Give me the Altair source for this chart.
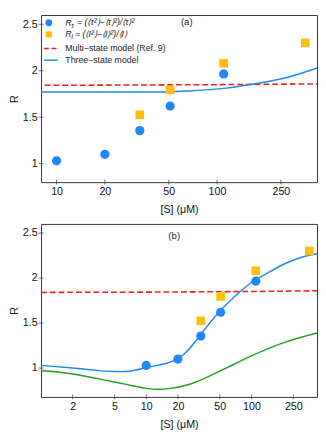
import altair as alt
import pandas as pd

# ---- data ----
S_tau = [10, 20, 33, 51, 110]
R_tau = [1.03, 1.10, 1.355, 1.62, 1.965]
S_I = [33, 51, 110, 355]
R_I = [1.525, 1.795, 2.08, 2.30]

multi_S = [1, 10, 100, 420]
multi_R = [1.84, 1.843, 1.85, 1.858]

a_three_S = [8, 30, 50, 70, 110, 166, 276, 420]
a_three_R = [1.77, 1.77, 1.772, 1.785, 1.81, 1.855, 1.93, 2.03]

b_three_S = [1, 2, 3.5, 5, 7, 10, 14, 20, 26, 32, 50, 70, 100, 150, 200, 300, 420]
b_three_R = [1.03, 1.0, 0.972, 0.962, 0.966, 1.005, 1.04, 1.105, 1.22, 1.355, 1.63, 1.80, 1.95, 2.07, 2.15, 2.23, 2.27]

b_green_S = [1, 2, 5, 7, 10, 13, 17, 25, 38, 60, 100, 200, 420]
b_green_R = [0.97, 0.935, 0.845, 0.81, 0.775, 0.765, 0.775, 0.815, 0.90, 1.01, 1.135, 1.28, 1.39]

a_xticks = [10, 20, 50, 100, 250]
b_xticks = [2, 5, 10, 20, 50, 100, 250]
yticks = [1, 1.5, 2, 2.5]

legend_labels = ["Multi\u2212state  model  (Ref. 9)", "Three\u2212state model"]
formula_tau = "= (\u27e8\u03c4\u00b2\u27e9\u2212\u27e8\u03c4\u27e9\u00b2)/\u27e8\u03c4\u27e9\u00b2"
formula_I = "= (\u27e8I\u00b2\u27e9\u2212\u27e8I\u27e9\u00b2)/\u27e8I\u27e9"
panel_tags = ["(a)", "(b)"]

BLUE_PT = "#1e88f5"
YELLOW = "#ffbe0b"
RED = "#e8231e"
BLUE_LN = "#2288e8"
GREEN = "#22a022"
FONT = "Liberation Sans"

W = 284


def df(xs, ys):
    return pd.DataFrame({"S": xs, "R": ys})


def panel(xdom, ydom, xticks, H, tag, tagx, tagy, green=False, legend=False):
    xs = alt.Scale(type="log", domain=xdom, nice=False)
    ys = alt.Scale(domain=ydom, nice=False, zero=False)
    xax = alt.Axis(values=xticks, format="~g", title="[S] (\u03bcM)", tickSize=0,
                   labelPadding=4, titlePadding=7, domain=False)
    yax = alt.Axis(values=yticks, format="~g", title="R", tickSize=0,
                   labelPadding=4, titlePadding=3, domain=False)
    X = alt.X("S:Q", scale=xs, axis=xax)
    Y = alt.Y("R:Q", scale=ys, axis=yax)
    Xn = alt.X("S:Q", scale=xs)
    Yn = alt.Y("R:Q", scale=ys)

    layers = []
    layers.append(alt.Chart(df(multi_S, multi_R)).mark_line(
        color=RED, strokeDash=[6, 3], strokeWidth=1.6, clip=True).encode(x=X, y=Y))
    if green:
        layers.append(alt.Chart(df(b_green_S, b_green_R)).mark_line(
            color=GREEN, strokeWidth=1.5, interpolate="natural", clip=True).encode(x=Xn, y=Yn))
        layers.append(alt.Chart(df(b_three_S, b_three_R)).mark_line(
            color=BLUE_LN, strokeWidth=1.5, interpolate="natural", clip=True).encode(x=Xn, y=Yn))
    else:
        layers.append(alt.Chart(df(a_three_S, a_three_R)).mark_line(
            color=BLUE_LN, strokeWidth=1.5, interpolate="monotone", clip=True).encode(x=Xn, y=Yn))
    layers.append(alt.Chart(df(S_I, R_I)).mark_square(
        color=YELLOW, size=80, opacity=1).encode(x=Xn, y=Yn))
    layers.append(alt.Chart(df(S_tau, R_tau)).mark_circle(
        color=BLUE_PT, size=90, opacity=1).encode(x=Xn, y=Yn))

    # inward ticks
    layers.append(alt.Chart(pd.DataFrame({"S": xticks})).mark_tick(
        color="#333", size=5, thickness=1).encode(x=Xn, y=alt.value(H)))
    layers.append(alt.Chart(pd.DataFrame({"R": yticks})).mark_tick(
        color="#333", size=5, thickness=1).encode(y=Yn, x=alt.value(0)))

    layers.append(alt.Chart(pd.DataFrame({"t": [tag]})).mark_text(
        font=FONT, fontSize=10, color="#222").encode(
        text="t:N", x=alt.value(tagx), y=alt.value(tagy)))

    if legend:
        one = pd.DataFrame({"k": [0]})
        layers.append(alt.Chart(one).mark_circle(color=BLUE_PT, size=50, opacity=1).encode(
            x=alt.value(8), y=alt.value(8)))
        layers.append(alt.Chart(one).mark_square(color=YELLOW, size=40, opacity=1).encode(
            x=alt.value(8), y=alt.value(20)))
        layers.append(alt.Chart(one).mark_rule(color=RED, strokeDash=[5, 3], strokeWidth=1.6).encode(
            x=alt.value(3), x2=alt.value(17), y=alt.value(34.5)))
        layers.append(alt.Chart(one).mark_rule(color=BLUE_LN, strokeWidth=1.5).encode(
            x=alt.value(3), x2=alt.value(17), y=alt.value(46.5)))
        txt = dict(font=FONT, fontSize=9, color="#222", align="left", baseline="middle")
        layers.append(alt.Chart(pd.DataFrame({"t": ["R"]})).mark_text(fontStyle="italic", **txt).encode(
            text="t:N", x=alt.value(25), y=alt.value(8)))
        layers.append(alt.Chart(pd.DataFrame({"t": ["\u03c4"]})).mark_text(
            font=FONT, fontSize=7, fontStyle="italic", color="#222", align="left", baseline="middle").encode(
            text="t:N", x=alt.value(31), y=alt.value(11)))
        layers.append(alt.Chart(pd.DataFrame({"t": [formula_tau]})).mark_text(fontStyle="italic", **txt).encode(
            text="t:N", x=alt.value(37), y=alt.value(7.5)))
        layers.append(alt.Chart(pd.DataFrame({"t": ["R"]})).mark_text(fontStyle="italic", **txt).encode(
            text="t:N", x=alt.value(25), y=alt.value(20)))
        layers.append(alt.Chart(pd.DataFrame({"t": ["I"]})).mark_text(
            font=FONT, fontSize=7, fontStyle="italic", color="#222", align="left", baseline="middle").encode(
            text="t:N", x=alt.value(31), y=alt.value(23)))
        layers.append(alt.Chart(pd.DataFrame({"t": [formula_I]})).mark_text(fontStyle="italic", **txt).encode(
            text="t:N", x=alt.value(35), y=alt.value(19.5)))
        layers.append(alt.Chart(pd.DataFrame({"t": [legend_labels[0]]})).mark_text(**txt).encode(
            text="t:N", x=alt.value(25), y=alt.value(34.5)))
        layers.append(alt.Chart(pd.DataFrame({"t": [legend_labels[1]]})).mark_text(**txt).encode(
            text="t:N", x=alt.value(25), y=alt.value(46.5)))

    return alt.layer(*layers).properties(width=W, height=H)


pa = panel([8, 420], [0.8, 2.6], a_xticks, 172, panel_tags[0], 150, 7, legend=True)
pb = panel([1, 420], [0.68, 2.6], b_xticks, 178, panel_tags[1], 137, 12, green=True)

chart = alt.vconcat(pa, pb, spacing=8).properties(padding=0).configure_view(
    stroke="#333", strokeWidth=1
).configure_axis(
    grid=False, labelFont=FONT, titleFont=FONT, labelFontSize=11, titleFontSize=11,
    titleFontWeight="normal", labelColor="#111", titleColor="#111"
)

chart.save("out.html", embed_options={"renderer": "svg", "actions": False})
